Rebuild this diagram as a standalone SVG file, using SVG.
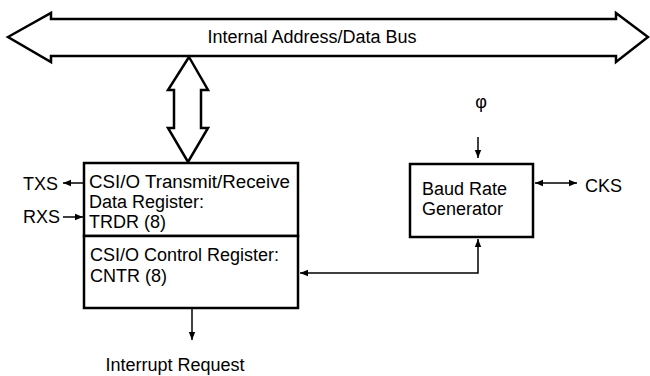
<svg xmlns="http://www.w3.org/2000/svg" width="650" height="376" viewBox="0 0 650 376">
<defs>
<style>
text{font-family:"Liberation Sans",Arial,Helvetica,sans-serif;font-size:18px;fill:#000}
.box{fill:#fff;stroke:#000;stroke-width:2.5}
.bus{fill:#fff;stroke:#000;stroke-width:2.5;stroke-linejoin:miter}
.ln{fill:none;stroke:#000;stroke-width:1.5}
</style>
<marker id="ah" viewBox="0 0 10 10" refX="10" refY="5" markerWidth="8" markerHeight="8" markerUnits="userSpaceOnUse" orient="auto-start-reverse">
<path d="M0,1 L10,5 L0,9 Z" fill="#000"/>
</marker>
</defs>
<rect width="650" height="376" fill="#fff"/>
<g id="bus">
<polygon class="bus" points="8,37 51,13 51,19 616,19 616,13 648,37 616,62 616,56 51,56 51,62"/>
<text x="312" y="43" text-anchor="middle">Internal Address/Data Bus</text>
</g>
<g id="bus-link">
<polygon class="bus" points="189,57 208,90 201,90 201,128 208,128 188,162 168,128 174,128 174,90 168,90"/>
</g>
<g id="trdr">
<rect class="box" x="84" y="163" width="214" height="73"/>
<text x="89" y="188" textLength="201" lengthAdjust="spacingAndGlyphs">CSI/O Transmit/Receive</text>
<text x="89" y="208">Data Register:</text>
<text x="89" y="228">TRDR (8)</text>
</g>
<g id="cntr">
<rect class="box" x="84" y="236" width="214" height="72"/>
<text x="90" y="261">CSI/O Control Register:</text>
<text x="90" y="282">CNTR (8)</text>
</g>
<g id="brg">
<rect class="box" x="410" y="164" width="123" height="73"/>
<text x="422" y="195">Baud Rate</text>
<text x="422" y="215">Generator</text>
</g>
<g id="labels">
<text x="23" y="190">TXS</text>
<text x="23" y="223">RXS</text>
<text x="585" y="192">CKS</text>
<text x="481" y="108" text-anchor="middle">φ</text>
<text x="175" y="371" text-anchor="middle">Interrupt Request</text>
</g>
<g id="connectors">
<line class="ln" x1="83" y1="183" x2="63" y2="183" marker-end="url(#ah)"/>
<line class="ln" x1="63" y1="217" x2="83" y2="217" marker-end="url(#ah)"/>
<line class="ln" x1="535" y1="183" x2="577" y2="183" marker-start="url(#ah)" marker-end="url(#ah)"/>
<line class="ln" x1="478" y1="137" x2="478" y2="158" marker-end="url(#ah)"/>
<polyline class="ln" points="478,239 478,273 300,273" marker-start="url(#ah)" marker-end="url(#ah)"/>
<line class="ln" x1="192" y1="309" x2="192" y2="340" marker-end="url(#ah)"/>
</g>
</svg>
